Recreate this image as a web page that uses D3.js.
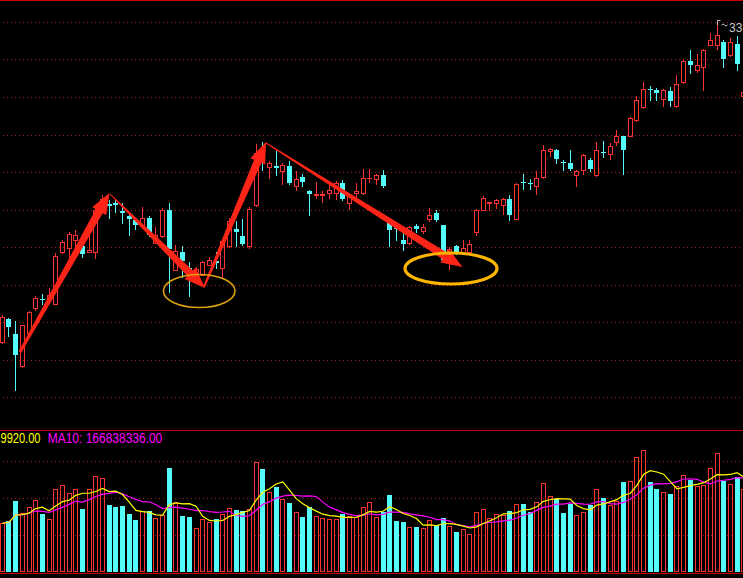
<!DOCTYPE html>
<html><head><meta charset="utf-8">
<script src="https://cdn.jsdelivr.net/npm/d3@7/dist/d3.min.js"></script>
<style>html,body{margin:0;padding:0;background:#000;overflow:hidden}svg{display:block}</style>
</head><body>
<svg id="c" width="743" height="578"></svg>
<script>
// ---------------- DATA ----------------
const open=[26.61,27.05,26.77,26.13,26.79,27.29,27.47,27.49,27.37,28.39,
28.49,28.65,28.52,28.41,28.39,29.26,29.36,29.37,29.22,29.12,
29.04,28.94,29.09,28.59,28.71,29.25,28.05,28.41,28.09,27.95,
27.95,28.15,28.21,28.09,28.52,28.86,28.72,28.51,29.34,30.37,
30.11,30.12,30.01,30.12,29.73,29.91,29.63,29.54,29.53,29.57,
29.59,29.79,29.37,29.59,29.57,29.87,29.85,29.94,28.99,28.88,
28.64,28.59,28.92,28.83,29.06,29.17,28.93,28.38,28.52,28.37,
28.41,28.81,29.25,29.38,29.37,29.34,29.47,29.07,29.80,29.78,
29.73,29.89,30.41,30.45,30.20,30.17,29.95,30.03,30.24,29.94,
30.40,30.36,30.61,30.71,30.73,31.03,31.31,31.66,31.64,31.47,
31.62,31.33,31.81,32.22,32.05,32.11,32.55,32.53,32.59,32.34,
32.56,31.52];
const high=[27.14,27.08,27.01,26.95,27.22,27.52,27.57,27.68,28.37,28.64,
28.80,28.84,28.56,28.84,29.34,29.54,29.44,29.44,29.37,29.17,
29.08,29.31,29.12,28.91,29.28,29.37,28.54,28.52,28.20,28.10,
28.22,28.30,28.41,28.64,29.08,29.01,29.07,29.30,30.57,30.61,
30.21,30.41,30.17,30.21,30.01,29.97,29.64,29.81,29.63,29.74,
29.82,29.84,29.54,29.79,30.07,30.07,29.96,30.04,29.01,28.94,
28.81,28.92,28.96,28.97,29.29,29.23,28.95,28.50,28.54,28.64,
28.64,29.26,29.52,29.41,29.46,29.48,29.54,29.78,29.96,29.86,
30.02,30.54,30.49,30.47,30.24,30.44,30.04,30.36,30.29,30.61,
30.62,30.59,30.84,30.72,31.10,31.52,31.81,31.72,31.67,31.66,
31.69,31.94,32.24,32.44,32.37,32.46,32.79,33.04,32.65,32.67,
32.71,31.64];
const low=[26.58,26.71,25.64,26.10,26.76,27.24,27.37,27.44,27.37,28.38,
28.31,28.41,28.31,28.40,28.29,29.20,29.08,29.19,28.99,28.74,
28.86,28.92,28.71,28.58,28.69,27.61,28.04,27.91,27.51,27.94,
27.94,28.14,28.09,27.91,28.50,28.51,28.54,28.49,29.32,30.04,
29.87,29.94,29.77,29.77,29.64,29.71,29.14,29.49,29.41,29.49,
29.47,29.45,29.27,29.47,29.56,29.81,29.77,29.69,28.52,28.64,
28.44,28.57,28.81,28.79,29.02,29.01,28.22,28.07,28.36,28.36,
28.39,28.74,29.24,29.24,29.29,29.16,29.03,29.05,29.66,29.66,
29.56,29.87,30.33,30.17,30.03,30.03,29.73,29.96,30.01,29.92,
30.31,30.26,30.54,29.96,30.71,31.01,31.29,31.44,31.45,31.32,
31.32,31.31,31.79,31.99,32.01,31.65,32.54,32.46,32.11,32.32,
32.04,31.50];
const close=[27.11,26.91,26.34,26.95,27.19,27.49,27.44,27.54,28.33,28.61,
28.77,28.75,28.35,28.44,29.25,29.46,29.32,29.34,29.17,29.06,
28.95,29.09,28.73,28.75,29.25,28.47,28.42,28.21,27.84,28.07,
28.19,28.25,28.17,28.62,29.01,28.81,28.56,29.27,30.37,30.17,
30.17,30.09,30.14,29.79,29.86,29.80,29.55,29.56,29.56,29.64,
29.79,29.47,29.52,29.62,29.87,29.88,29.94,29.71,28.84,28.86,
28.56,28.89,28.86,28.89,29.14,29.03,28.24,28.47,28.37,28.49,
28.57,29.24,29.49,29.39,29.44,29.46,29.14,29.76,29.79,29.77,
29.87,30.44,30.47,30.26,30.19,30.07,30.02,30.34,30.06,30.44,
30.39,30.51,30.72,30.44,31.07,31.44,31.66,31.65,31.59,31.64,
31.41,31.77,32.22,32.13,32.13,32.44,32.65,32.74,32.26,32.59,
32.16,31.60];
// volume in millions of shares
const volume=[85.7,89.8,125,103.3,113.9,126.2,102.1,92.8,145.6,152.6,
138.5,145.6,110.9,145.6,168.4,164.9,117.9,114.4,116.2,102.1,
91.5,107.4,107.4,94.5,100.3,183,123.7,98.6,96.8,77.4,
93.3,88,93.3,102.1,112.6,109.1,107.4,110.4,193.1,181.3,
140.8,149.6,128.5,121.4,105.1,96.8,114.4,98,94.5,92.8,
92.8,102.1,98,96.3,113.9,122.7,96.3,105.6,135.5,89.8,
88,78.7,79.2,76.9,91.5,82.2,95,80.4,70.4,75.2,
66.4,105.1,110.4,94.5,101.6,100.3,107.4,119.2,119.2,105.1,
122.7,156.1,133.2,128.5,103.8,120.2,99.8,105.6,117.9,145.6,
130.2,117.9,125,158.4,159.6,201.9,214.2,158.4,146.1,140.3,
137.3,150.8,170.2,161.9,150.8,152.6,182.5,208.9,160.2,154.4,
167.7,145.6];
const categories=d3.range(open.length);
const priceTicks=d3.range(0,11).map(k=>+(33-0.75*k).toFixed(2));
const volTicks=[66,131,195];
const labelMA5="9920.00";
const labelMA10="MA10: 166838336.00";
const highLabel="33";
// annotations (index, price)
const arrows=[
 {from:[2.65,26.40],to:[16.05,29.58],w0:3},
 {from:[16.12,29.56],to:[30.34,27.68],w0:1},
 {from:[30.19,27.70],to:[39.48,30.60],w0:2},
 {from:[39.48,30.58],to:[68.89,28.10],w0:1}
];
const ellipses=[
 {c:[29.48,27.62],rx:5.36,ry:0.33,color:"#dca010",w:1.6},
 {c:[67.17,28.07],rx:6.89,ry:0.31,color:"#ffb400",w:3.2}
];

// ---------------- CHART ----------------
const RED="#ff3232", CYAN="#54fcfc", GRID="#a01e1e", FRAME="#c80000";
const svg=d3.select("#c");
svg.append("rect").attr("width",743).attr("height",578).attr("fill","#000");
const x=d3.scaleLinear().domain([0,111]).range([2.3,2.3+6.68*111]);
const y=d3.scaleLinear().domain([25.5,33]).range([397,22]);
const yv=d3.scaleLinear().domain([0,250]).range([572,430]);

const g=svg.append("g").attr("shape-rendering","crispEdges");
// frame lines
g.append("line").attr("x1",0).attr("x2",743).attr("y1",0.5).attr("y2",0.5).attr("stroke",FRAME);
g.append("line").attr("x1",0).attr("x2",743).attr("y1",430.5).attr("y2",430.5).attr("stroke",FRAME);
g.append("line").attr("x1",0).attr("x2",743).attr("y1",573.5).attr("y2",573.5).attr("stroke",FRAME);
// grid
g.selectAll(".pg").data(priceTicks).join("line")
 .attr("x1",3).attr("x2",743).attr("y1",d=>Math.round(y(d))+0.5).attr("y2",d=>Math.round(y(d))+0.5)
 .attr("stroke",GRID).attr("stroke-dasharray","1 3");
g.selectAll(".vg").data(volTicks).join("line")
 .attr("x1",3).attr("x2",743).attr("y1",d=>Math.round(yv(d))+0.5).attr("y2",d=>Math.round(yv(d))+0.5)
 .attr("stroke",GRID).attr("stroke-dasharray","1 3");

// candles
const cg=g.append("g");
categories.forEach(i=>{
  const L=Math.round(x(i)-2.5), cx=L+2.5;
  const o=open[i], c=close[i], up=c>=o;
  const top=Math.round(y(Math.max(o,c))), bot=Math.round(y(Math.min(o,c)));
  const hy=Math.round(y(high[i])), ly=Math.round(y(low[i]));
  if(up){
    if(hy<top) cg.append("line").attr("x1",cx).attr("x2",cx).attr("y1",hy).attr("y2",top).attr("stroke",RED);
    if(ly>bot) cg.append("line").attr("x1",cx).attr("x2",cx).attr("y1",bot).attr("y2",ly+1).attr("stroke",RED);
    if(bot-top>=2){
      cg.append("rect").attr("x",L+0.5).attr("y",top+0.5).attr("width",4).attr("height",bot-top)
        .attr("fill","none").attr("stroke",RED);
    } else {
      cg.append("rect").attr("x",L).attr("y",top).attr("width",5).attr("height",Math.max(1,bot-top+1)).attr("fill",RED);
    }
  } else {
    cg.append("line").attr("x1",cx).attr("x2",cx).attr("y1",hy).attr("y2",ly+1).attr("stroke",CYAN);
    cg.append("rect").attr("x",L).attr("y",top).attr("width",5).attr("height",Math.max(1,bot-top)).attr("fill",CYAN);
  }
  // volume
  const vt=Math.round(yv(volume[i]));
  if(up){
    cg.append("rect").attr("x",L+0.5).attr("y",vt+0.5).attr("width",4).attr("height",572-vt-1)
      .attr("fill","none").attr("stroke",RED);
  } else {
    cg.append("rect").attr("x",L).attr("y",vt).attr("width",5).attr("height",572-vt).attr("fill",CYAN);
  }
});

// moving averages of volume
function ma(n){return categories.map(i=>d3.mean(volume.slice(Math.max(0,i-n+1),i+1)));}
const ma5=ma(5), ma10=ma(10);
const line=d3.line().x((d,i)=>x(i)).y(d=>yv(d));
svg.append("path").attr("d",line(ma10)).attr("fill","none").attr("stroke","#ff00ff").attr("stroke-width",1.2);
svg.append("path").attr("d",line(ma5)).attr("fill","none").attr("stroke","#ffff00").attr("stroke-width",1.2);

// labels
svg.append("text").attr("x",0.5).attr("y",443)
 .attr("font-family","Liberation Sans, Arial, sans-serif").attr("font-size",14).attr("fill","#ffff00")
 .attr("textLength",40).attr("lengthAdjust","spacingAndGlyphs").text(labelMA5);
svg.append("text").attr("x",47.7).attr("y",443)
 .attr("font-family","Liberation Sans, Arial, sans-serif").attr("font-size",14).attr("fill","#ff00ff")
 .attr("textLength",114.6).attr("lengthAdjust","spacingAndGlyphs").text(labelMA10);

// high marker
const hi=d3.maxIndex(high);
const hx=Math.round(x(hi)-2.5)+2.5, hyy=Math.round(y(high[hi]));
svg.append("path").attr("d",`M${hx},${hyy+5} V${hyy+0.5} H${hx+3}`).attr("fill","none").attr("stroke","#c8c8c8").attr("stroke-width",1);
svg.append("path").attr("d",`M${hx+4},${hyy+5} q1.5,-2 3,0 t3,0`).attr("fill","none").attr("stroke","#c8c8c8").attr("stroke-width",1);
svg.append("text").attr("x",hx+11.5).attr("y",hyy+11.5)
 .attr("font-family","Liberation Sans, Arial, sans-serif").attr("font-size",12).attr("fill","#c8c8c8")
 .text(highLabel);

// arrows
function arrowPts(S,T,w0,w1,hw,hl){
  const dx=T[0]-S[0], dy=T[1]-S[1], len=Math.hypot(dx,dy);
  const ux=dx/len, uy=dy/len, nx=-uy, ny=ux;
  const B=[T[0]-ux*hl,T[1]-uy*hl];
  return [[S[0]+nx*w0/2,S[1]+ny*w0/2],[B[0]+nx*w1/2,B[1]+ny*w1/2],[B[0]+nx*hw/2,B[1]+ny*hw/2],T,
          [B[0]-nx*hw/2,B[1]-ny*hw/2],[B[0]-nx*w1/2,B[1]-ny*w1/2],[S[0]-nx*w0/2,S[1]-ny*w0/2]];
}
arrows.forEach(a=>{
  const S=[x(a.from[0]),y(a.from[1])], T=[x(a.to[0]),y(a.to[1])];
  svg.append("polygon").attr("points",arrowPts(S,T,a.w0,8,16,21).map(p=>p.join(",")).join(" "))
    .attr("fill","#ff2418");
});
// ellipses
ellipses.forEach(e=>{
  svg.append("ellipse").attr("cx",x(e.c[0])).attr("cy",y(e.c[1]))
    .attr("rx",x(e.rx)-x(0)).attr("ry",y(0)-y(e.ry))
    .attr("fill","none").attr("stroke",e.color).attr("stroke-width",e.w);
});
</script>
</body></html>
